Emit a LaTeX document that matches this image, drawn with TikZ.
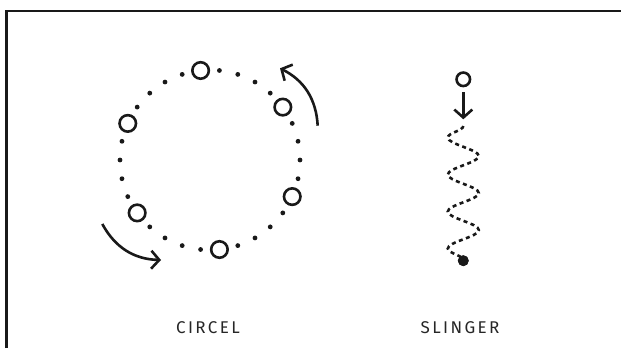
\documentclass[tikz,border=0pt]{standalone}
\usepackage{fontspec}
\newfontfamily\labelfont[LetterSpace=14]{Fira Sans}
\usetikzlibrary{arrows.meta}
\usetikzlibrary{positioning}
\usetikzlibrary{decorations.pathmorphing}

\begin{document}
\begin{tikzpicture}[x=1pt, y=1pt, line width=2.6pt, color=black!90,
    ring/.style={draw, circle, minimum size=16.5pt, inner sep=0pt},
    turn/.style={-{Straight Barb[length=8pt, width=18pt]}},
    caption/.style={font=\labelfont\fontsize{17}{20}\selectfont, text=black!85, anchor=base}]
  \useasboundingbox (0,0) rectangle (621,348);
  \draw[line width=2.8pt] (6.8,0) -- (6.8,337) -- (621,337);

  % circel
  \coordinate (ctr) at (210,188);
  \foreach \a [count=\i] in {96,36,-24,-84,-144,156} {
    \node[ring] (r\i) at ([shift={(\a:90)}]ctr) {};
    \foreach \k in {1,...,4}
      \fill ([shift={(\a-12*\k:90)}]ctr) circle (2.4);
  }
  \coordinate (up0) at (317.7,222.3);
  \coordinate (up1) at (280,279.7);
  \coordinate (down0) at (102.3,124);
  \coordinate (down1) at (161,88);
  \draw[turn] (up0) to[bend right=30] (up1);
  \draw[turn] (down0) to[bend right=30] (down1);

  % slinger
  \node[ring, minimum size=13.5pt] (weight) at (463.3,268.7) {};
  \coordinate[below=40pt of weight.center] (drop);
  \coordinate[below=6.7pt of drop] (wtop);
  \node[draw, circle, fill, minimum size=8pt, inner sep=0pt, below=134.7pt of wtop, anchor=center] (bob) {};
  \draw[turn, shorten <=5pt] (weight) -- (drop);
  \draw[dash pattern=on 4pt off 3.5pt, decorate,
    decoration={snake, amplitude=15.5pt, segment length=37pt, mirror}] (wtop) -- (bob.center);
  \node[draw, circle, fill, minimum size=8pt, inner sep=0pt] at (bob) {};

  \node[caption] (lcircel) at (208,14) {CIRCEL};
  \node[caption] (lslinger) at (460,14) {SLINGER};
\end{tikzpicture}
\end{document}
